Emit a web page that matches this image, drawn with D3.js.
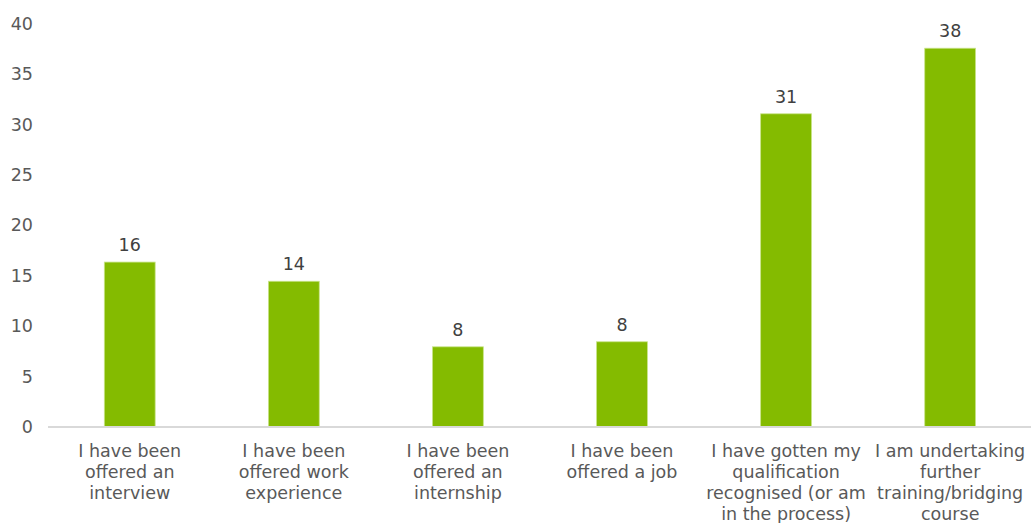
<!DOCTYPE html>
<html>
<head>
<meta charset="utf-8">
<script src="https://cdn.jsdelivr.net/npm/d3@7"></script>
<style>
  body { margin: 0; background: #fff; }
  svg { display: block; }
  text { font-family: "DejaVu Sans", Verdana, sans-serif; fill: #595959; }
</style>
</head>
<body>
<script>
// categories, one string per bar, "\n" where the label wraps
const categories = [
  "I have been\noffered an\ninterview",
  "I have been\noffered work\nexperience",
  "I have been\noffered an\ninternship",
  "I have been\noffered a job",
  "I have gotten my\nqualification\nrecognised (or am\nin the process)",
  "I am undertaking\nfurther\ntraining/bridging\ncourse"
]
const values = [16.3, 14.4, 7.9, 8.4, 31.0, 37.5]
const valueLabels = ["16", "14", "8", "8", "31", "38"]
const yTicks = [0, 5, 10, 15, 20, 25, 30, 35, 40]

const width = 1031
const height = 523
const margin = { top: 23, right: 0, bottom: 96, left: 48 }

const svg = d3.select("body").append("svg")
  .attr("width", width)
  .attr("height", height)

const x = d3.scaleBand()
  .domain(d3.range(categories.length))
  .range([47.7, 1032.2])
  .paddingInner(0.69)
  .paddingOuter(0.345)

const y = d3.scaleLinear()
  .domain([0, 40])
  .range([height - margin.bottom - 0.5, margin.top])

// y tick labels, no axis line
const yAxis = d3.axisLeft(y).tickValues(yTicks).tickSize(0).tickPadding(0)
svg.append("g")
  .attr("transform", `translate(${33},0)`)
  .call(yAxis)
  .call(g => g.select(".domain").remove())
  .selectAll("text")
    .style("font-size", "17.5px")
    .attr("fill", "#595959")
    .attr("dy", "0.35em")

// bars
svg.append("g").selectAll("rect")
  .data(values).enter()
  .append("rect")
    .attr("x", (d, i) => x(i))
    .attr("y", d => y(d))
    .attr("width", x.bandwidth())
    .attr("height", d => y(0) - y(d))
    .attr("fill", "#84bb00")
    .attr("stroke", "#c9e48a")
    .attr("stroke-width", 0.8)

// baseline
svg.append("line")
  .attr("x1", margin.left)
  .attr("x2", width)
  .attr("y1", y(0) + 0.5)
  .attr("y2", y(0) + 0.5)
  .attr("stroke", "#d9d9d9")
  .attr("stroke-width", 2)

// value labels
svg.append("g").selectAll("text")
  .data(values).enter()
  .append("text")
    .attr("x", (d, i) => x(i) + x.bandwidth() / 2)
    .attr("y", d => y(d) - 11)
    .attr("text-anchor", "middle")
    .style("font-size", "17.5px")
    .style("fill", "#404040")
    .text((d, i) => valueLabels[i])

// category labels
const xAxis = svg.append("g")
xAxis.selectAll("text")
  .data(categories).enter()
  .append("text")
    .attr("text-anchor", "middle")
    .attr("transform", (d, i) => `translate(${x(i) + x.bandwidth() / 2},${457})`)
    .style("font-size", "17.5px")
    .each(function (d) {
      const lines = d.split("\n")
      d3.select(this).selectAll("tspan")
        .data(lines).enter()
        .append("tspan")
          .attr("x", 0)
          .attr("dy", (l, j) => j === 0 ? 0 : 21)
          .text(l => l)
    })
</script>
</body>
</html>
